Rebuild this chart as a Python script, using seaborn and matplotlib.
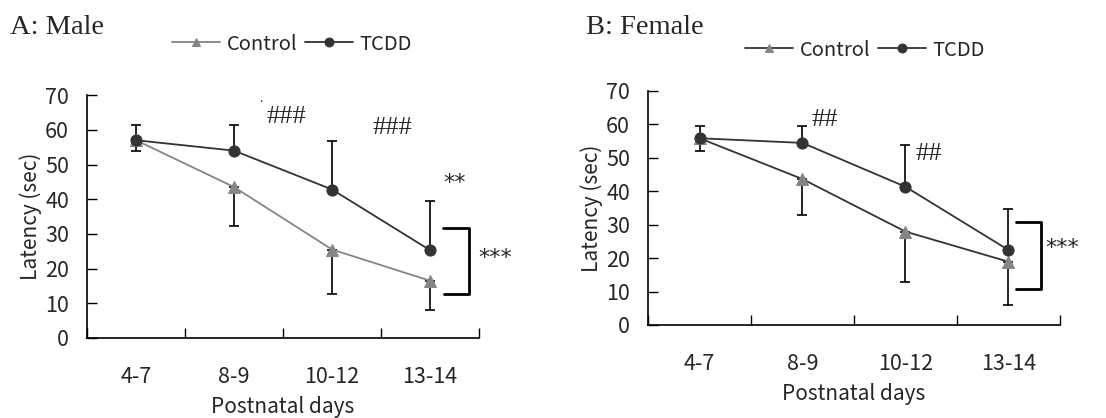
import matplotlib
matplotlib.use("Agg")
import matplotlib.pyplot as plt
import seaborn as sns
import numpy as np
import pandas as pd

# postnatal day bins
days = ["4-7", "8-9", "10-12", "13-14"]

# A: male, mean latency and the end of the drawn error bar
male_control = [57.0, 43.5, 25.5, 16.5]
male_control_low = [54.0, 32.3, 12.8, 8.2]
male_tcdd = [57.0, 54.0, 42.8, 25.3]
male_tcdd_high = [61.5, 61.3, 56.8, 39.5]

# B: female
female_control = [55.8, 43.6, 27.9, 18.9]
female_control_low = [51.9, 32.8, 12.8, 6.0]
female_tcdd = [55.8, 54.4, 41.3, 22.4]
female_tcdd_high = [59.5, 59.5, 53.8, 34.6]

sns.set_style("ticks")
plt.rcParams['font.family'] = ['Noto Sans CJK JP', 'DejaVu Sans']

fig = plt.figure(figsize=(11.06, 4.18), dpi=100)
axA = fig.add_axes([0.0787, 0.1914, 0.3545, 0.581])
axB = fig.add_axes([0.5859, 0.2225, 0.3725, 0.5605])

dark = "#333333"
grey = "#858585"


def draw_panel(ax, control, control_low, tcdd, tcdd_high, control_line):
    df = pd.DataFrame({"pos": np.arange(len(days)), "control": control, "tcdd": tcdd})
    sns.lineplot(data=df, x="pos", y="control", ax=ax, color=control_line, lw=1.3,
                 marker="^", markersize=8, markerfacecolor=grey, markeredgecolor=grey,
                 label="Control", zorder=3)
    sns.lineplot(data=df, x="pos", y="tcdd", ax=ax, color=dark, lw=1.3,
                 marker="o", markersize=8, markerfacecolor=dark, markeredgecolor=dark,
                 label="TCDD", zorder=4)
    c = np.array(control)
    t = np.array(tcdd)
    ax.errorbar(df["pos"], c, yerr=[c - np.array(control_low), np.zeros(len(c))],
                fmt="none", ecolor="black", elinewidth=1.2, capsize=3.5, capthick=1.2, zorder=2)
    ax.errorbar(df["pos"], t, yerr=[np.zeros(len(t)), np.array(tcdd_high) - t],
                fmt="none", ecolor="black", elinewidth=1.2, capsize=3.5, capthick=1.2, zorder=2)
    ax.set_xlim(-0.5, 3.5)
    ax.set_ylim(0, 70)
    ax.set_yticks(range(0, 71, 10))
    ax.set_xticks(np.arange(-0.5, 3.6, 1.0))
    ax.set_xticklabels([])
    ax.set_xticks(np.arange(len(days)), minor=True)
    ax.set_xticklabels(days, minor=True)
    ax.tick_params(axis="x", which="major", direction="in", length=7, width=1, color="black")
    ax.tick_params(axis="x", which="minor", length=0, pad=20, labelsize=15.5)
    ax.tick_params(axis="y", direction="in", length=7, width=1, color="black", labelsize=15.5, pad=13)
    for s in ["top", "right"]:
        ax.spines[s].set_visible(False)
    for s in ["left", "bottom"]:
        ax.spines[s].set_color("black")
        ax.spines[s].set_linewidth(1.2)
    ax.set_xlabel("Postnatal days", fontsize=15, labelpad=6)
    ax.set_ylabel("Latency (sec)", fontsize=15, labelpad=2)
    ax.get_legend().remove()


draw_panel(axA, male_control, male_control_low, male_tcdd, male_tcdd_high, grey)
draw_panel(axB, female_control, female_control_low, female_tcdd, female_tcdd_high, dark)

# significance marks, panel A
serif = ["Liberation Serif", "DejaVu Serif"]
star = ["DejaVu Sans"]
axA.text(1.33, 63.7, "###", fontsize=19, family=serif, va="center")
axA.text(1.26, 69.0, ".", fontsize=9, va="center")
axA.text(2.41, 60.5, "###", fontsize=19, family=serif, va="center")
axA.text(3.13, 44.7, "**", fontsize=16, family=star, va="center")
axA.plot([3.13, 3.40, 3.40, 3.14], [31.7, 31.7, 12.7, 12.7], color="black", lw=2.0, clip_on=False)
axA.text(3.49, 23.0, "***", fontsize=16, family=star, va="center", clip_on=False)

# significance marks, panel B
axB.text(1.09, 61.2, "##", fontsize=19, family=serif, va="center")
axB.text(2.10, 51.0, "##", fontsize=19, family=serif, va="center")
axB.plot([3.07, 3.32, 3.32, 3.07], [30.8, 30.8, 10.8, 10.8], color="black", lw=2.0, clip_on=False)
axB.text(3.36, 23.0, "***", fontsize=16, family=star, va="center", clip_on=False)

# panel titles
fig.text(10 / 1106, 1 - 28 / 418, "A: Male", fontsize=20.5, family=serif, va="center")
fig.text(586 / 1106, 1 - 27 / 418, "B: Female", fontsize=20.5, family=serif, va="center")

# legends above each panel
for ax, (lx, ly) in [(axA, (292, 44)), (axB, (865, 50))]:
    h, l = ax.get_legend_handles_labels()
    fig.legend(h, l, loc="center", bbox_to_anchor=(lx / 1106, 1 - ly / 418), ncol=2,
               frameon=False, fontsize=14.5, handlelength=2.4, handletextpad=0.3,
               columnspacing=0.4, borderpad=0, markerscale=0.8)

fig.savefig("out.png", dpi=100)
